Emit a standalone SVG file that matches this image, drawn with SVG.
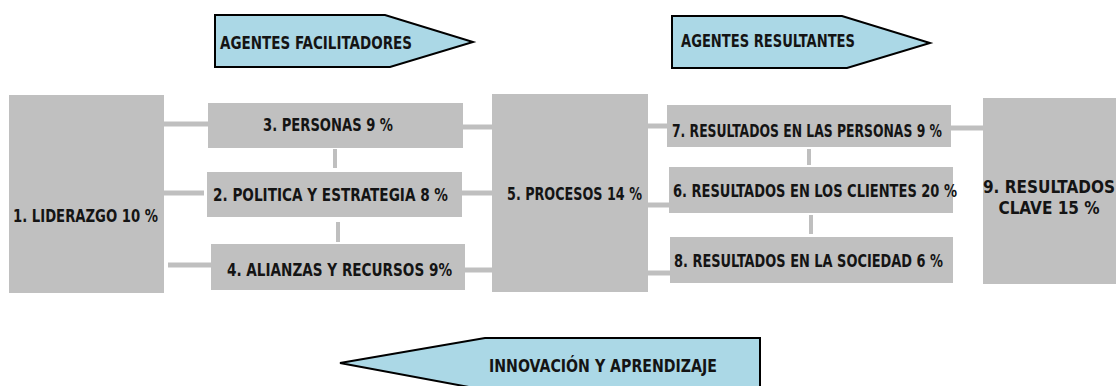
<svg xmlns="http://www.w3.org/2000/svg" width="1116" height="386" viewBox="0 0 1116 386">
<style>
.box{fill:#c0c0c0}
.arr{fill:#abd8e6;stroke:#000;stroke-width:2;stroke-linejoin:miter}
.t{font-family:"DejaVu Sans Condensed","Liberation Sans",Arial,sans-serif;font-weight:bold;font-size:17px;fill:#141414}
.c{stroke:#bfbfbf;stroke-width:5;fill:none}
.cv{stroke:#bfbfbf;stroke-width:4;fill:none}
</style>
<rect width="1116" height="386" fill="#fff"/>
<g id="connectors">
<line class="c" x1="164" y1="124" x2="208" y2="124"/>
<line class="c" x1="164" y1="193" x2="204" y2="193"/>
<line class="c" x1="168" y1="265" x2="211" y2="265"/>
<line class="c" x1="463" y1="127" x2="492" y2="127"/>
<line class="c" x1="462" y1="193" x2="492" y2="193"/>
<line class="c" x1="465" y1="270" x2="492" y2="270"/>
<line class="c" x1="648" y1="126" x2="667" y2="126"/>
<line class="c" x1="648" y1="205" x2="669" y2="205"/>
<line class="c" x1="648" y1="273" x2="670" y2="273"/>
<line class="c" x1="951" y1="128" x2="983" y2="128"/>
<line class="cv" x1="335" y1="149" x2="335" y2="168"/>
<line class="cv" x1="338" y1="222" x2="338" y2="242"/>
<line class="cv" x1="809" y1="149" x2="809" y2="165" stroke-width="3"/>
<line class="cv" x1="811" y1="215" x2="811" y2="234"/>
</g>
<g id="agentes-facilitadores">
<polygon class="arr" points="215,15 385,15 473,42 390,67 215,67"/>
<text class="t" x="220" y="49" textLength="192" lengthAdjust="spacingAndGlyphs">AGENTES FACILITADORES</text>
</g>
<g id="agentes-resultantes">
<polygon class="arr" points="672,16 842,16 930,43 847,68 672,68"/>
<text class="t" x="681" y="47" textLength="174" lengthAdjust="spacingAndGlyphs">AGENTES RESULTANTES</text>
</g>
<g id="innovacion">
<polygon class="arr" points="340,363 485,338 760,338 760,390 485,390"/>
<text class="t" x="489" y="372" textLength="228" lengthAdjust="spacingAndGlyphs">INNOVACIÓN Y APRENDIZAJE</text>
</g>
<g id="n1">
<rect class="box" x="9" y="95" width="155" height="198"/>
<text class="t" x="13" y="222" textLength="145" lengthAdjust="spacingAndGlyphs">1. LIDERAZGO 10 %</text>
</g>
<g id="n3">
<rect class="box" x="208" y="103" width="255" height="45"/>
<text class="t" x="263" y="131" textLength="130" lengthAdjust="spacingAndGlyphs">3. PERSONAS 9 %</text>
</g>
<g id="n2">
<rect class="box" x="207" y="172" width="255" height="45"/>
<text class="t" x="213" y="201" textLength="235" lengthAdjust="spacingAndGlyphs">2. POLITICA Y ESTRATEGIA 8 %</text>
</g>
<g id="n4">
<rect class="box" x="211" y="244" width="254" height="46"/>
<text class="t" x="227" y="276" textLength="225" lengthAdjust="spacingAndGlyphs">4. ALIANZAS Y RECURSOS 9%</text>
</g>
<g id="n5">
<rect class="box" x="492" y="94" width="156" height="198"/>
<text class="t" x="507" y="200" textLength="135" lengthAdjust="spacingAndGlyphs">5. PROCESOS 14 %</text>
</g>
<g id="n7">
<rect class="box" x="667" y="105" width="284" height="42"/>
<text class="t" x="672" y="137" textLength="270" lengthAdjust="spacingAndGlyphs">7. RESULTADOS EN LAS PERSONAS 9 %</text>
</g>
<g id="n6">
<rect class="box" x="669" y="167" width="284" height="46"/>
<text class="t" x="673" y="197" textLength="284" lengthAdjust="spacingAndGlyphs">6. RESULTADOS EN LOS CLIENTES 20 %</text>
</g>
<g id="n8">
<rect class="box" x="670" y="237" width="283" height="46"/>
<text class="t" x="674" y="267" textLength="269" lengthAdjust="spacingAndGlyphs">8. RESULTADOS EN LA SOCIEDAD 6 %</text>
</g>
<g id="n9">
<rect class="box" x="983" y="98" width="133" height="186"/>
<text class="t" x="1049" y="193" font-size="15" text-anchor="middle">9. RESULTADOS</text>
<text class="t" x="1049" y="214" font-size="15" text-anchor="middle">CLAVE 15 %</text>
</g>
</svg>
